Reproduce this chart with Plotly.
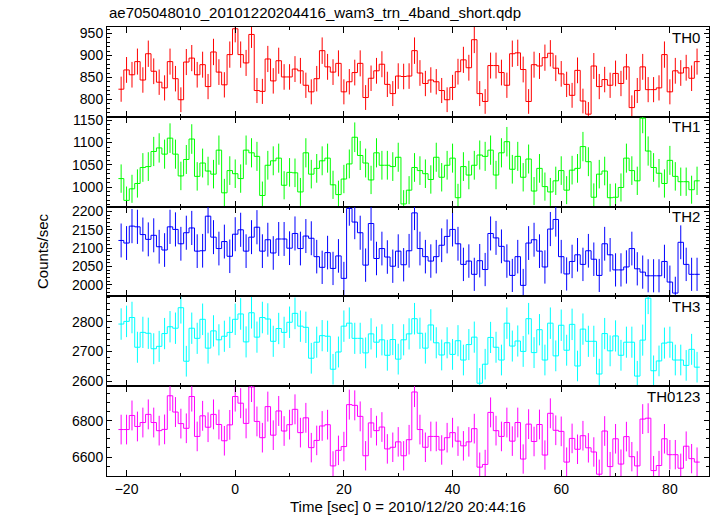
import numpy as np
import plotly.graph_objects as go
from plotly.subplots import make_subplots

TIME = list(range(-21, 86))

TH0 = [823, 867, 856, 886, 844, 904, 864, 839, 826, 886, 847, 799, 885, 894, 856, 879, 829, 908, 862, 833, 902,
       961, 902, 883, 948, 820, 818, 892, 842, 888, 851, 851, 869, 865, 832, 817, 847, 911, 874, 862, 882,
       817, 840, 861, 882, 804, 848, 865, 880, 834, 813, 853, 852, 853, 911, 860, 836, 844, 840, 820, 799,
       827, 863, 890, 872, 936, 813, 795, 877, 877, 861, 832, 904, 906, 868, 795, 879, 876, 895, 905, 871,
       858, 834, 809, 866, 796, 766, 876, 829, 845, 832, 859, 836, 874, 781, 820, 874, 822, 822, 826, 902,
       817, 865, 860, 872, 848, 886]

TH1 = [1019, 970, 996, 1008, 1044, 1046, 1080, 1088, 1074, 1110, 1074, 1025, 1062, 1108, 1024, 1054, 1036, 1029, 1083, 987, 1037,
       1030, 1019, 1083, 1077, 1069, 981, 1049, 1059, 1065, 1004, 1033, 1032, 989, 1077, 1029, 1042, 1059, 1065, 1005, 983,
       1018, 1052, 1112, 1071, 1054, 1016, 1077, 1049, 1049, 1046, 1067, 962, 993, 1044, 1037, 1030, 1017, 1067, 1022, 1049,
       1065, 976, 1046, 1027, 1049, 1072, 1069, 1083, 1027, 1077, 1102, 1040, 1069, 1022, 1063, 991, 1042, 1001, 989, 1014,
       1037, 993, 1038, 1042, 1091, 1057, 977, 1029, 1036, 976, 977, 999, 1065, 1037, 1014, 1155, 1081, 1044, 1031, 1008,
       1060, 1024, 1012, 1012, 994, 1014]

TH2 = [2121, 2114, 2160, 2158, 2137, 2124, 2135, 2104, 2095, 2158, 2151, 2112, 2142, 2155, 2092, 2093, 2187, 2130, 2099, 2118, 2078,
       2138, 2150, 2092, 2130, 2157, 2092, 2123, 2087, 2125, 2125, 2100, 2140, 2099, 2133, 2127, 2077, 2048, 2088, 2045, 2079,
       2018, 2208, 2171, 2142, 2054, 2167, 2072, 2099, 2076, 2051, 2092, 2055, 2093, 2196, 2099, 2077, 2065, 2077, 2108, 2132,
       2151, 2112, 2056, 2065, 2029, 2066, 2042, 2140, 2128, 2105, 2065, 2026, 2077, 1999, 2114, 2123, 2092, 2049, 2152, 2178,
       2077, 2030, 2064, 2082, 2056, 2093, 2070, 2026, 2112, 2082, 2041, 2041, 2049, 2099, 2044, 2035, 2025, 2025, 2025, 2064,
       2008, 1978, 2116, 2056, 2029, 2029]

TH3 = [2792, 2801, 2814, 2714, 2764, 2761, 2709, 2717, 2760, 2783, 2778, 2847, 2667, 2778, 2744, 2808, 2711, 2769, 2739, 2751, 2764,
       2808, 2826, 2732, 2830, 2748, 2814, 2809, 2734, 2777, 2764, 2798, 2828, 2785, 2781, 2677, 2731, 2753, 2751, 2640, 2698,
       2785, 2795, 2744, 2744, 2695, 2759, 2731, 2739, 2687, 2740, 2674, 2739, 2759, 2810, 2761, 2711, 2789, 2729, 2688, 2729,
       2690, 2736, 2671, 2723, 2748, 2593, 2657, 2747, 2714, 2671, 2795, 2718, 2735, 2700, 2810, 2696, 2773, 2671, 2795, 2685,
       2788, 2704, 2791, 2651, 2775, 2734, 2734, 2624, 2760, 2702, 2752, 2687, 2731, 2731, 2617, 2738, 2879, 2635, 2668, 2728,
       2731, 2671, 2671, 2653, 2707, 2647]

TH0123 = [6752, 6752, 6830, 6769, 6791, 6836, 6791, 6746, 6753, 6939, 6849, 6785, 6759, 6935, 6714, 6828, 6765, 6836, 6780, 6690, 6778,
          6935, 6898, 6786, 6988, 6797, 6707, 6879, 6721, 6855, 6744, 6779, 6864, 6735, 6817, 6652, 6692, 6772, 6779, 6551, 6637,
          6658, 6890, 6886, 6825, 6607, 6789, 6746, 6766, 6645, 6654, 6684, 6607, 6696, 6960, 6752, 6654, 6714, 6714, 6639, 6707,
          6735, 6688, 6662, 6684, 6757, 6544, 6559, 6847, 6746, 6714, 6791, 6688, 6791, 6589, 6782, 6686, 6780, 6611, 6842, 6748,
          6742, 6572, 6703, 6643, 6718, 6651, 6628, 6505, 6744, 6547, 6701, 6561, 6713, 6602, 6551, 6810, 6815, 6525, 6553, 6701,
          6613, 6613, 6538, 6660, 6591, 6572]

BIN_WIDTH = 1.0
PANEL_NAMES = ["TH0", "TH1", "TH2", "TH3", "TH0123"]
PANEL_DATA = [TH0, TH1, TH2, TH3, TH0123]
COLORS = ["#ff0000", "#00ff00", "#0000ff", "#00ffff", "#ff00ff"]
Y_RANGES = [[760, 965], [956, 1158], [1969, 2213], [2583, 2885], [6495, 6992]]
Y_DTICK = [50, 50, 50, 100, 200]
Y_MINOR = [10, 10, 10, 20, 50]

TITLE = "ae705048010_20101220204416_wam3_trn_4band_short.qdp"
XTITLE = "Time [sec] 0 = 2010/12/20 20:44:16"
YTITLE = "Counts/sec"

FONT = "Liberation Sans, Arial, Helvetica, sans-serif"

fig = make_subplots(rows=5, cols=1, shared_xaxes=True, vertical_spacing=0)

t = np.array(TIME, dtype=float)
edges = list(t - BIN_WIDTH / 2) + [t[-1] + BIN_WIDTH / 2]
for i, (vals, col) in enumerate(zip(PANEL_DATA, COLORS)):
    v = np.array(vals, dtype=float)
    fig.add_trace(go.Scatter(x=edges, y=list(v) + [v[-1]], mode="lines",
                             line=dict(shape="hv", color=col, width=1),
                             hoverinfo="skip", showlegend=False), row=i + 1, col=1)
    fig.add_trace(go.Scatter(x=t, y=v, mode="markers",
                             marker=dict(size=1, color=col),
                             error_y=dict(type="data", array=np.sqrt(v), visible=True,
                                          color=col, thickness=1, width=0),
                             showlegend=False), row=i + 1, col=1)

for i in range(5):
    r = i + 1
    fig.update_xaxes(range=[-23.6, 87.2], tick0=0, dtick=20, ticks="inside", ticklen=6,
                     tickcolor="black", showline=True, linecolor="black", linewidth=1,
                     mirror="ticks", showgrid=False, zeroline=False,
                     minor=dict(dtick=10, ticks="inside", ticklen=3, tickcolor="black", showgrid=False),
                     showticklabels=(r == 5), tickfont=dict(family=FONT, size=14, color="black"),
                     row=r, col=1)
    fig.update_yaxes(range=Y_RANGES[i], dtick=Y_DTICK[i], ticks="inside", ticklen=5,
                     tickcolor="black", showline=True, linecolor="black", linewidth=1,
                     mirror="ticks", showgrid=False, zeroline=False,
                     minor=dict(dtick=Y_MINOR[i], ticks="inside", ticklen=3, tickcolor="black", showgrid=False),
                     tickfont=dict(family=FONT, size=14, color="black"),
                     row=r, col=1)
    yref = "y domain" if r == 1 else f"y{r} domain"
    fig.add_annotation(text=PANEL_NAMES[i], xref="paper", x=0.988, xanchor="right",
                       yref=yref, y=1, yanchor="middle", yshift=-10, showarrow=False,
                       font=dict(family=FONT, size=15, color="black"))

fig.add_annotation(text=TITLE, xref="paper", x=0.0, xanchor="left", yref="paper", y=1.033,
                   yanchor="middle", showarrow=False, font=dict(family=FONT, size=15, color="black"))
fig.add_annotation(text=YTITLE, xref="paper", x=-0.108, xanchor="center", yref="paper", y=0.501,
                   yanchor="middle", textangle=-90, showarrow=False,
                   font=dict(family=FONT, size=15, color="black"))
fig.add_annotation(text=XTITLE, xref="paper", x=0.5, xanchor="center", yref="paper", y=-0.069,
                   yanchor="middle", showarrow=False, font=dict(family=FONT, size=15, color="black"))

fig.update_layout(width=717, height=516, margin=dict(l=107, r=8, t=27, b=40),
                  paper_bgcolor="white", plot_bgcolor="white", showlegend=False,
                  font=dict(family=FONT, size=14, color="black"))

fig.write_html("out.html", config={"displayModeBar": False},
               post_script="document.body.style.margin='0px';document.body.style.overflow='hidden';")
